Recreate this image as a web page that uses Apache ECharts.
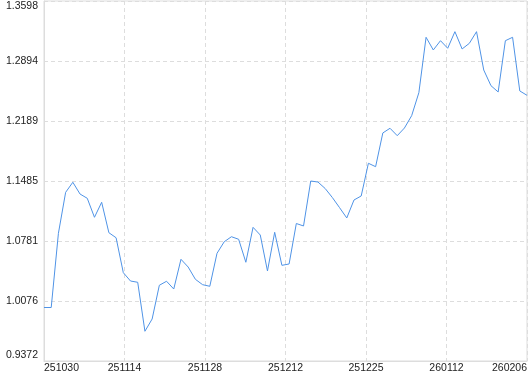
<!DOCTYPE html>
<html>
<head>
<meta charset="utf-8">
<script src="https://cdn.jsdelivr.net/npm/echarts@6/dist/echarts.min.js"></script>
<style>
html,body{margin:0;padding:0;background:#fff;}
#c{width:530px;height:374px;}
</style>
</head>
<body>
<div id="c"></div>
<script>
// Tick labels
const xTickLabels = ['251030','251114','251128','251212','251225','260112','260206'];
const yTickLabels = ['0.9372','1.0076','1.0781','1.1485','1.2189','1.2894','1.3598'];
// Y-axis range
const yMin = 0.9372;
const yMax = 1.3598;
// Series values (one per point, evenly spaced along the x axis)
const values = [
  1.0000, 1.0000, 1.0871, 1.1352, 1.1470, 1.1332, 1.1282, 1.1059, 1.1235, 1.0878,
  1.0819, 1.0409, 1.0311, 1.0296, 0.9721, 0.9865, 1.0261, 1.0308, 1.0217, 1.0566,
  1.0475, 1.0331, 1.0268, 1.0249, 1.0636, 1.0772, 1.0831, 1.0801, 1.0531, 1.0941,
  1.0851, 1.0429, 1.0883, 1.0495, 1.0511, 1.0986, 1.0957, 1.1485, 1.1473, 1.1397,
  1.1291, 1.1172, 1.1051, 1.1262, 1.1309, 1.1693, 1.1653, 1.2049, 1.2104, 1.2017,
  1.2107, 1.2252, 1.2522, 1.3172, 1.3023, 1.3132, 1.3043, 1.3238, 1.3035, 1.3101,
  1.3238, 1.2788, 1.2604, 1.2530, 1.3132, 1.3172, 1.2542, 1.2491
];

const lastIdx = values.length - 1;
const xStep = lastIdx / (xTickLabels.length - 1);
const seriesData = values.map((v, i) => [i, v]);

const font = "'Liberation Sans', Arial, sans-serif";
const gridColor = '#dddddd';

const chart = echarts.init(document.getElementById('c'), null, {renderer: 'canvas'});
chart.setOption({
  animation: false,
  grid: {
    left: 44, right: 1, top: 1, bottom: 13,
    show: true, borderColor: gridColor, borderWidth: 1, backgroundColor: 'transparent'
  },
  xAxis: {
    type: 'value',
    min: 0,
    max: lastIdx,
    interval: xStep,
    axisLine: {show: true, lineStyle: {color: gridColor}},
    axisTick: {show: false},
    splitLine: {show: true, lineStyle: {color: gridColor, type: [4, 3]}},
    axisLabel: {
      margin: 2,
      fontSize: 10.5,
      fontFamily: font,
      color: '#222',
      alignMinLabel: 'left',
      alignMaxLabel: 'right',
      formatter: v => xTickLabels[Math.round(v / xStep)]
    }
  },
  yAxis: [
    {
      type: 'value',
      min: yMin,
      max: yMax,
      show: false,
      splitLine: {show: false}
    },
    {
      type: 'value',
      min: 0,
      max: yTickLabels.length - 1,
      interval: 1,
      position: 'left',
      axisLine: {show: true, lineStyle: {color: gridColor}},
      axisTick: {show: false},
      splitLine: {show: true, lineStyle: {color: gridColor, type: [4, 3]}},
      axisLabel: {
        margin: 6,
        fontSize: 10.5,
        fontFamily: font,
        color: '#222',
        verticalAlignMinLabel: 'bottom',
        verticalAlignMaxLabel: 'top',
        formatter: v => yTickLabels[Math.round(v)]
      }
    }
  ],
  series: [{
    type: 'line',
    yAxisIndex: 0,
    data: seriesData,
    showSymbol: false,
    symbol: 'none',
    lineStyle: {color: '#4f93e6', width: 1},
    z: 5
  }]
});
</script>
</body>
</html>
